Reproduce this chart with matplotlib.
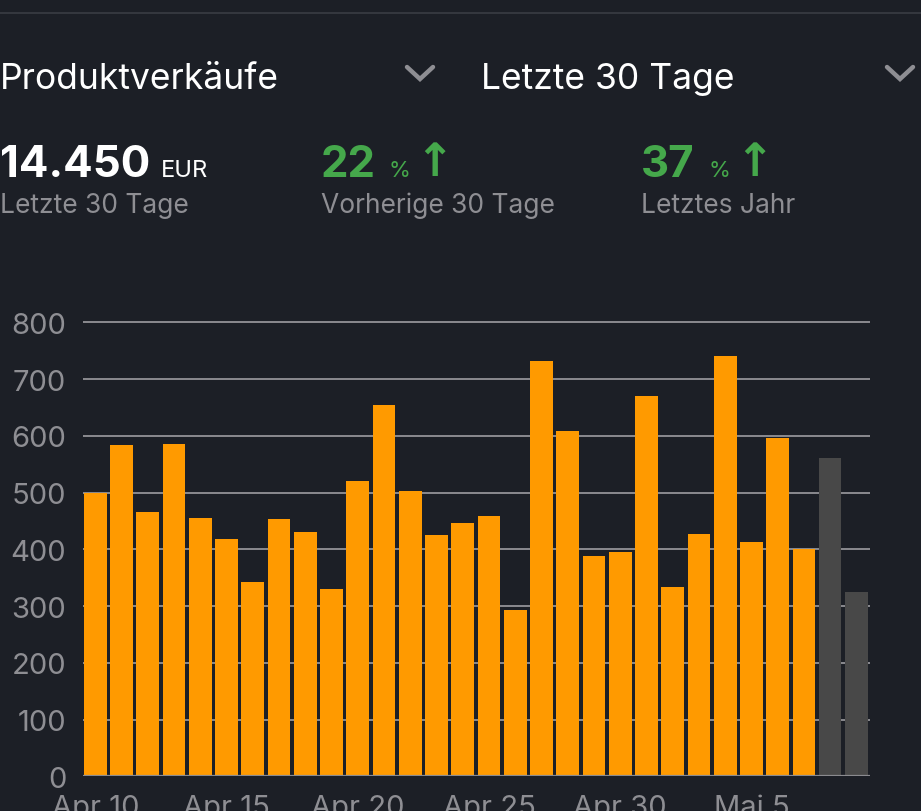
import matplotlib
matplotlib.use("Agg")
import matplotlib.pyplot as plt
from matplotlib.lines import Line2D
import numpy as np

plt.rcParams["font.family"] = ["Inter", "DejaVu Sans"]

# Tageswerte Produktverkäufe (EUR), Apr 10 - Mai 9
sales = [500, 583, 466, 585, 456, 418, 343, 454, 431, 330,
         520, 654, 503, 426, 447, 458, 293, 732, 609, 388,
         395, 671, 333, 427, 741, 413, 597, 401, 561, 325]
# die letzten zwei Tage sind noch nicht abgeschlossen (grau)
is_pending = [False] * 28 + [True, True]
tick_pos = [0, 5, 10, 15, 20, 25]
tick_labels = ["Apr 10", "Apr 15", "Apr 20", "Apr 25", "Apr 30", "Mai 5"]
y_ticks = [0, 100, 200, 300, 400, 500, 600, 700, 800]

BG = "#1c1f26"
ORANGE = "#ff9a00"
PENDING = "#484848"
GRID = "#8a8a8f"
GRAY_TXT = "#8e8e93"
GREEN = "#45a84b"
W, H = 921, 812

fig = plt.figure(figsize=(W / 100, H / 100), dpi=100)
fig.patch.set_facecolor(BG)


def fx(px):
    return px / W


def fy(py):
    return 1 - py / H


# obere Trennlinie
fig.add_artist(Line2D([0, 1], [fy(14), fy(14)], color="#3a3d44", lw=1.2))

# Kopfzeile mit Auswahlfeldern
fig.text(fx(0), fy(89), "Produktverkäufe", color="white", fontsize=25.5, va="baseline")
fig.text(fx(481), fy(89), "Letzte 30 Tage", color="white", fontsize=25.5, va="baseline")
for cx in (420, 900):
    fig.add_artist(Line2D([fx(cx - 13), fx(cx), fx(cx + 13)], [fy(68), fy(80), fy(68)],
                          color="#8e8e93", lw=3.2, solid_capstyle="round",
                          solid_joinstyle="miter"))

# Kennzahlen
fig.text(fx(0), fy(177), "14.450", color="white", fontsize=31.5, fontweight="bold", va="baseline")
fig.text(fx(161), fy(177), "EUR", color="white", fontsize=17, va="baseline")
fig.text(fx(0), fy(213), "Letzte 30 Tage", color=GRAY_TXT, fontsize=19, va="baseline")

for x0, val, sub in [(321, "22", "Vorherige 30 Tage"), (641, "37", "Letztes Jahr")]:
    fig.text(fx(x0), fy(177), val, color=GREEN, fontsize=31.5, fontweight="bold", va="baseline")
    fig.text(fx(x0 + 67), fy(177), "%", color=GREEN, fontsize=16, va="baseline")
    fig.text(fx(x0 + 113), fy(164), "↑", color=GREEN, fontsize=33, fontweight="bold",
             ha="center", va="center", family=["DejaVu Sans"])
    fig.text(fx(x0), fy(213), sub, color=GRAY_TXT, fontsize=19, va="baseline")

# Balkendiagramm
y_top = 805
ax_bottom_px = 777.3
px_per_unit = (777.3 - 323.3) / 800
ax_h_px = y_top * px_per_unit
ax = fig.add_axes([fx(83), fy(ax_bottom_px), fx(870) - fx(83), ax_h_px / H])
ax.set_facecolor(BG)

x = np.arange(len(sales))
colors = [PENDING if p else ORANGE for p in is_pending]
ax.bar(x, sales, width=0.866, color=colors, zorder=2)

ax.set_xlim(-0.47, 29.52)
ax.set_ylim(0, y_top)
ax.set_yticks(y_ticks)
ax.set_yticklabels([str(v) for v in y_ticks])
ax.set_xticks(tick_pos)
ax.set_xticklabels(tick_labels)
ax.grid(axis="y", color=GRID, lw=1.4, zorder=1)
ax.grid(axis="x", visible=False)
for s in ax.spines.values():
    s.set_visible(False)
ax.axhline(0, color=GRID, lw=1.6, zorder=3)
ax.tick_params(axis="y", length=0, pad=12, labelsize=21, labelcolor=GRAY_TXT)
ax.tick_params(axis="x", length=0, pad=13, labelsize=21, labelcolor=GRAY_TXT)

fig.savefig("out.png", dpi=100, facecolor=BG)
